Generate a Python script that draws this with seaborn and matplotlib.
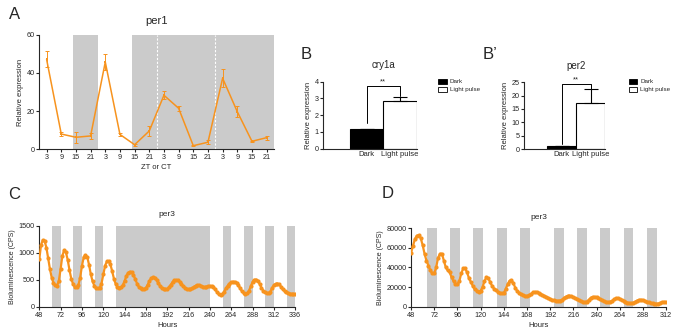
import numpy as np
import pandas as pd
import matplotlib
matplotlib.use("Agg")
import matplotlib.pyplot as plt
import seaborn as sns
from matplotlib.patches import Patch

ORANGE = "#f7931e"
GREY = "#cbcbcb"

# ---- panel A: per1 qPCR, every 6 h over four days
per1_hours = [3, 9, 15, 21, 27, 33, 39, 45, 51, 57, 63, 69, 75, 81, 87, 93]
per1_mean = [47.1, 8.0, 6.3, 7.0, 45.7, 7.8, 2.4, 9.6, 28.3, 21.5, 1.9, 3.7, 37.2, 19.7, 4.2, 6.1]
per1_sem = [4.2, 1.0, 3.0, 1.5, 4.0, 1.0, 0.5, 2.5, 2.0, 1.3, 0.3, 1.0, 4.8, 2.8, 0.4, 1.0]
per1_dark = [(14, 24), (38, 96)]
per1_day_lines = [48, 72]

# ---- panel B / B': light pulse
groups = ["Dark", "Light pulse"]
cry1a_mean = [1.15, 2.85]
cry1a_sem = [0.05, 0.25]
per2_mean = [1.0, 17.2]
per2_sem = [0.1, 5.2]

# ---- panel C: per3 bioluminescence, 2 h sampling
c_hours = list(range(48, 337, 2))
c_cps = [
    880, 1150, 1240, 1220, 1100, 900, 700, 540, 440, 395, 390, 480,
    700, 950, 1050, 1010, 870, 680, 520, 420, 370, 360, 400, 540,
    760, 920, 960, 920, 780, 600, 470, 390, 350, 340, 350, 430,
    600, 760, 840, 845, 790, 660, 520, 420, 370, 355, 360, 400,
    480, 570, 630, 650, 640, 590, 510, 430, 370, 340, 325, 325,
    350, 410, 480, 530, 545, 540, 500, 440, 380, 345, 330, 325,
    330, 360, 410, 460, 490, 495, 490, 460, 420, 380, 350, 330,
    322, 325, 340, 370, 390, 400, 395, 385, 375, 365, 370, 380,
    385, 380, 360, 320, 270, 230, 220, 235, 280, 340, 390, 430,
    455, 465, 460, 445, 400, 340, 290, 255, 240, 250, 300, 380,
    460, 500, 505, 480, 420, 350, 300, 265, 250, 250, 280, 350,
    400, 425, 430, 415, 370, 320, 290, 270, 255, 245, 238, 235,
    235,
]
c_dark = [(62.5, 72), (86.5, 96), (110.5, 120), (134, 240),
          (254.5, 264), (278.5, 288), (302.5, 312), (326.5, 336)]

# ---- panel D: per3 bioluminescence, 2 h sampling
d_hours = list(range(48, 313, 2))
d_cps = [
    55000, 62000, 69000, 72500, 73000, 70000, 63000, 54000, 47000, 42000, 37000, 34000,
    34000, 40000, 50000, 54000, 54000, 47000, 40000, 37000, 35000, 30000, 26000, 23500,
    23000, 26000, 34000, 39000, 39000, 35000, 29000, 25000, 21000, 18000, 16500, 15500,
    16000, 20000, 26000, 30000, 29000, 25000, 21000, 18500, 17000, 15000, 14000, 13500,
    14000, 18000, 23000, 26500, 27000, 24000, 19000, 16000, 14000, 12500, 11500, 11000,
    11000, 11500, 13000, 14500, 15000, 15000, 14000, 13000, 12000, 11000, 10000, 9000,
    8000, 7000, 6500, 6200, 6000, 6200, 7000, 8500, 10000, 11000, 11200, 10500,
    9500, 8500, 7500, 6500, 5500, 5000, 4700, 5200, 7000, 9000, 10000, 10000,
    9500, 8500, 7500, 6500, 5500, 5000, 4700, 5000, 6000, 7500, 8400, 8500,
    8000, 7000, 6000, 5000, 4200, 3800, 3600, 4000, 5000, 6200, 7000, 7100,
    6800, 6000, 5200, 4500, 3900, 3500, 3200, 3100, 3200, 4000, 4700, 4900,
    4800,
]
d_dark = [(64.5, 74.5), (88.5, 98.5), (112.5, 122.5), (137, 147), (161, 171),
          (196, 206), (220, 230), (244, 254), (268.5, 278), (292.5, 302.5)]

sns.set_style("ticks")
plt.rcParams["font.family"] = ["Liberation Sans", "DejaVu Sans"]
plt.rcParams["font.size"] = 5
plt.rcParams["axes.linewidth"] = 0.8
plt.rcParams["xtick.major.width"] = 0.8
plt.rcParams["ytick.major.width"] = 0.8
plt.rcParams["xtick.major.size"] = 2.2
plt.rcParams["ytick.major.size"] = 2.2
plt.rcParams["xtick.major.pad"] = 1.5
plt.rcParams["ytick.major.pad"] = 1.0
plt.rcParams["xtick.labelsize"] = 5.2
plt.rcParams["ytick.labelsize"] = 5.2
plt.rcParams["axes.labelsize"] = 5.5
plt.rcParams["axes.labelpad"] = 2

fig = plt.figure(figsize=(6.83, 3.35), dpi=100)
axA = fig.add_axes([0.0575, 0.5543, 0.3436, 0.342])
axB = fig.add_axes([0.4734, 0.5561, 0.1367, 0.2])
axB2 = fig.add_axes([0.7672, 0.5552, 0.1186, 0.1991])
axC = fig.add_axes([0.0575, 0.0845, 0.3748, 0.2409])
axD = fig.add_axes([0.6018, 0.0845, 0.3734, 0.234])

# panel A
for a, b in per1_dark:
    axA.axvspan(a, b, color=GREY, lw=0, zorder=0)
for h in per1_day_lines:
    axA.axvline(h, color="white", ls=(0, (2, 1.5)), lw=0.8, zorder=1)
dfA = pd.DataFrame({"hour": per1_hours, "expr": per1_mean})
sns.lineplot(data=dfA, x="hour", y="expr", ax=axA, color=ORANGE, lw=1.1,
             marker="s", markersize=2, markeredgewidth=0, zorder=3)
axA.errorbar(per1_hours, per1_mean, yerr=per1_sem, fmt="none", ecolor=ORANGE,
             elinewidth=0.7, capsize=1.5, capthick=0.7, zorder=3)
axA.set_xlim(0, 96)
axA.set_ylim(0, 60)
axA.set_xticks(per1_hours)
axA.set_xticklabels([h % 24 for h in per1_hours])
axA.set_yticks([0, 20, 40, 60])
axA.set_xlabel("ZT or CT")
axA.set_ylabel("Relative expression")
axA.set_title("per1", fontsize=8, pad=8)
sns.despine(ax=axA)


def light_pulse(ax, means, sems, ymax, step, title, bracket, leg_x):
    df = pd.DataFrame({"group": groups, "expr": means})
    sns.barplot(data=df, x="group", y="expr", hue="group", palette=["black", "white"],
                edgecolor="black", linewidth=0.8, width=1, legend=False, ax=ax)
    ax.errorbar([0, 1], means, yerr=[[0, 0], sems], fmt="none", ecolor="black",
                elinewidth=0.8, capsize=5, capthick=0.8)
    ax.set_xlim(-1.3, 1.5)
    ax.set_ylim(0, ymax)
    ax.set_yticks(np.arange(0, ymax + 0.01, step))
    ax.set_xlabel("")
    ax.set_ylabel("Relative expression")
    ax.tick_params(axis="x", length=0, labelsize=5.5)
    lo, top, hi = bracket
    ax.plot([0, 0, 1, 1], [lo, top, top, hi], color="black", lw=0.7, clip_on=False)
    ax.text(0.5, top + ymax * 0.01, "**", ha="center", va="bottom", fontsize=5.5)
    ax.text(0.5, 1.17, title, transform=ax.get_xaxis_transform(), ha="center",
            va="bottom", fontsize=7)
    handles = [Patch(facecolor="black", edgecolor="black", lw=0.6),
               Patch(facecolor="white", edgecolor="black", lw=0.6)]
    ax.legend(handles, groups, loc="upper left", bbox_to_anchor=(leg_x, 0.765),
              bbox_transform=fig.transFigure, frameon=False, fontsize=4.5,
              handlelength=1.3, handleheight=0.9, handletextpad=0.5,
              labelspacing=0.35, borderpad=0, borderaxespad=0)
    sns.despine(ax=ax)


light_pulse(axB, cry1a_mean, cry1a_sem, 4, 1, "cry1a", (1.55, 3.75, 3.15), 0.642)
light_pulse(axB2, per2_mean, per2_sem, 25, 5, "per2", (1.8, 24.5, 22.5), 0.921)


def per3_panel(ax, hours, cps, dark, xmax, ymax, ystep):
    for a, b in dark:
        ax.axvspan(a, b, color=GREY, lw=0, zorder=0)
    df = pd.DataFrame({"hour": hours, "cps": cps})
    sns.lineplot(data=df, x="hour", y="cps", ax=ax, color=ORANGE, lw=1.6,
                 marker="o", markersize=3, markeredgewidth=0, zorder=3)
    ax.set_xlim(48, xmax)
    ax.set_ylim(0, ymax)
    ax.set_xticks(range(48, xmax + 1, 24))
    ax.set_yticks(range(0, ymax + 1, ystep))
    ax.set_xlabel("Hours")
    ax.set_ylabel("Bioluminescence (CPS)", fontsize=5)
    ax.set_title("per3", fontsize=6, pad=7)
    sns.despine(ax=ax)


per3_panel(axC, c_hours, c_cps, c_dark, 336, 1500, 500)
per3_panel(axD, d_hours, d_cps, d_dark, 312, 80000, 20000)

for lab, x, y in [("A", 0.022, 0.958), ("B", 0.448, 0.836), ("B\u2019", 0.718, 0.836),
                  ("C", 0.021, 0.418), ("D", 0.568, 0.423)]:
    fig.text(x, y, lab, fontsize=12, ha="center", va="center")

fig.savefig("out.png", dpi=100)
